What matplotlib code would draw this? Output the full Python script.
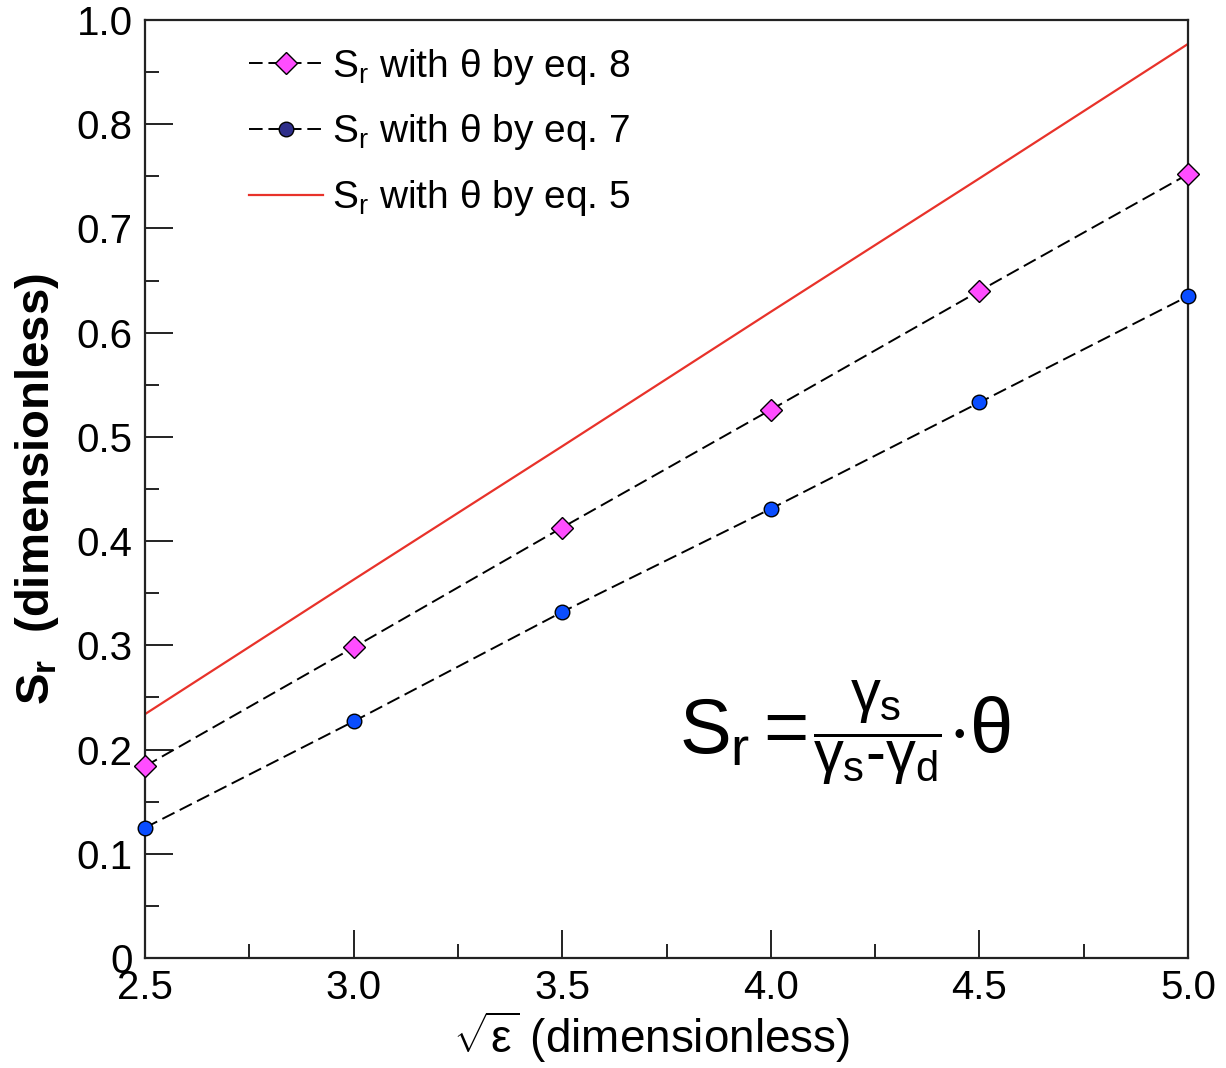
import numpy as np
import matplotlib
matplotlib.use("Agg")
import matplotlib.pyplot as plt
from matplotlib.lines import Line2D
from matplotlib.offsetbox import TextArea, HPacker, AnchoredOffsetbox

plt.rcParams['font.family'] = ['Liberation Sans', 'DejaVu Sans']
plt.rcParams['mathtext.fontset'] = 'custom'
plt.rcParams['mathtext.rm'] = 'Liberation Sans'
plt.rcParams['mathtext.it'] = 'Liberation Sans'
plt.rcParams['mathtext.bf'] = 'Liberation Sans:bold'

# sqrt(epsilon) values
sqrt_eps = [2.5, 3.0, 3.5, 4.0, 4.5, 5.0]
# Sr with theta by eq. 8
sr_eq8 = [0.184, 0.298, 0.413, 0.526, 0.640, 0.752]
# Sr with theta by eq. 7
sr_eq7 = [0.125, 0.227, 0.332, 0.431, 0.533, 0.635]
# Sr with theta by eq. 5
sr_eq5 = [0.234, 0.363, 0.491, 0.620, 0.748, 0.877]

x_ticks = [2.5, 3.0, 3.5, 4.0, 4.5, 5.0]
x_labels = ['2.5', '3.0', '3.5', '4.0', '4.5', '5.0']
y_ticks = [0, 0.1, 0.2, 0.3, 0.4, 0.5, 0.6, 0.7, 0.8, 0.9]
y_labels = ['0', '0.1', '0.2', '0.3', '0.4', '0.5', '0.6', '0.7', '0.8', '1.0']

fig = plt.figure(figsize=(12.26, 10.68), dpi=100)
ax = fig.add_axes([0.1183, 0.103, 0.8507, 0.8783])

dash = (7, 3)
ax.plot(sqrt_eps, sr_eq5, color='#e8322a', lw=1.6, zorder=2)
ax.plot(sqrt_eps, sr_eq8, color='black', lw=1.4, dashes=dash, marker='D',
        ms=11, mfc='#ff4dff', mec='black', mew=1.0, clip_on=False, zorder=3)
ax.plot(sqrt_eps, sr_eq7, color='black', lw=1.4, dashes=dash, marker='o',
        ms=10.5, mfc='#0a4dff', mec='black', mew=1.0, clip_on=False, zorder=3)

ax.set_xlim(2.5, 5.0)
ax.set_ylim(0, 0.9)
ax.set_xticks(x_ticks)
ax.set_xticklabels(x_labels)
ax.set_yticks(y_ticks)
ax.set_yticklabels(y_labels)
ax.set_xticks(np.arange(2.75, 5.0, 0.5), minor=True)
ax.set_yticks(np.arange(0.05, 0.9, 0.1), minor=True)
ax.tick_params(which='both', direction='in', labelsize=29, width=1.4, color='#222222')
ax.tick_params(which='major', length=20)
ax.tick_params(which='minor', length=10)
ax.tick_params(axis='x', pad=8)
ax.tick_params(axis='y', pad=9)
for sp in ax.spines.values():
    sp.set_linewidth(1.6)
    sp.set_color('#222222')

ax.set_xlabel(r'$\sqrt{\varepsilon}$ (dimensionless)', fontsize=33)
ax.xaxis.set_label_coords(0.486, -0.055)
ax.set_ylabel(r'$\mathbf{S_r}$  (dimensionless)', fontsize=34, fontweight='bold', labelpad=11)

handles = [
    Line2D([], [], color='black', lw=1.4, dashes=dash, marker='D', ms=11,
           mfc='#ff4dff', mec='black', mew=1.0),
    Line2D([], [], color='black', lw=1.4, dashes=dash, marker='o', ms=10.5,
           mfc='#2e2e8a', mec='black', mew=1.0),
    Line2D([], [], color='#e8322a', lw=1.6),
]
labels = [r'S$_{\rm r}$ with $\theta$ by eq. 8',
          r'S$_{\rm r}$ with $\theta$ by eq. 7',
          r'S$_{\rm r}$ with $\theta$ by eq. 5']
ax.legend(handles, labels, loc='upper left', bbox_to_anchor=(0.085, 0.988),
          frameon=False, fontsize=28, handlelength=1.9, handletextpad=0.22,
          labelspacing=0.66, borderaxespad=0.0, numpoints=1)

# формула: S_r и θ по-едри, дробта по-дребна
parts = [
    TextArea(r'$S_r =$', textprops=dict(fontsize=56)),
    TextArea(r'$\dfrac{\gamma_s}{\gamma_s\text{-}\gamma_d}$', textprops=dict(fontsize=43)),
    TextArea(r'$\cdot\theta$', textprops=dict(fontsize=56)),
]
eq = HPacker(children=parts, align='center', pad=0, sep=4)
box = AnchoredOffsetbox(loc='center', child=eq, pad=0, frameon=False,
                        bbox_to_anchor=(0.671, 0.24), bbox_transform=ax.transAxes,
                        borderpad=0)
ax.add_artist(box)

fig.savefig('out.png', dpi=100)
